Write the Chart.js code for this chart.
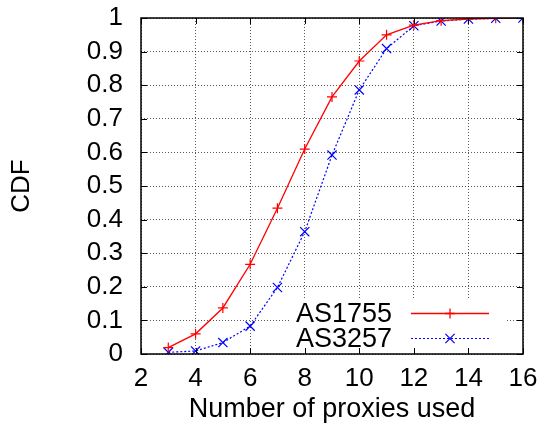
<!DOCTYPE html>
<html>
<head>
<meta charset="utf-8">
<script src="https://cdn.jsdelivr.net/npm/chart.js@4"></script>
<style>
html,body{margin:0;padding:0;background:#fff;}
canvas{display:block;}
</style>
</head>
<body>
<canvas id="c" width="545" height="426"></canvas>
<script>
const xValues = [3, 4, 5, 6, 7, 8, 9, 10, 11, 12, 13, 14, 15, 16];
const as1755 = [0.019, 0.060, 0.137, 0.267, 0.434, 0.610, 0.765, 0.872, 0.950, 0.979, 0.992, 0.997, 0.999, 1.000];
const as3257 = [0.005, 0.009, 0.034, 0.083, 0.198, 0.364, 0.592, 0.786, 0.909, 0.977, 0.991, 0.997, 0.999, 1.000];
const seriesLabels = ['AS1755', 'AS3257'];
const xTicks = [2, 4, 6, 8, 10, 12, 14, 16];
const yTicks = [0, 0.1, 0.2, 0.3, 0.4, 0.5, 0.6, 0.7, 0.8, 0.9, 1];

const FONT = '"Liberation Sans", Arial, Helvetica, sans-serif';

const toPts = (ys) => xValues.map((x, i) => ({x: x, y: ys[i]}));

const frameLegend = {
  id: 'frameLegend',
  beforeDatasetsDraw(chart) {
    const ctx = chart.ctx, a = chart.chartArea;
    ctx.save();
    ctx.fillStyle = '#fff';
    ctx.fillRect(290, 298, 507 - 290, a.bottom - 298);
    ctx.restore();
  },
  afterDatasetsDraw(chart) {
    const ctx = chart.ctx, a = chart.chartArea;
    const xs = chart.scales.x, ys = chart.scales.y;
    ctx.save();
    ctx.strokeStyle = '#000';
    ctx.lineWidth = 1;
    ctx.beginPath();
    xTicks.forEach(v => {
      const p = Math.round(xs.getPixelForValue(v)) + 0.5;
      ctx.moveTo(p, a.bottom); ctx.lineTo(p, a.bottom - 6);
      ctx.moveTo(p, a.top); ctx.lineTo(p, a.top + 6);
    });
    yTicks.forEach(v => {
      const p = Math.round(ys.getPixelForValue(v)) + 0.5;
      ctx.moveTo(a.left, p); ctx.lineTo(a.left + 6, p);
      ctx.moveTo(a.right, p); ctx.lineTo(a.right - 6, p);
    });
    ctx.stroke();
    ctx.lineWidth = 1.5;
    ctx.strokeRect(a.left, a.top, a.right - a.left, a.bottom - a.top);
    const rows = [313.5, 338.5];
    chart.data.datasets.forEach((ds, i) => {
      const y = rows[i];
      ctx.fillStyle = '#000';
      ctx.font = '27px ' + FONT;
      ctx.textAlign = 'right';
      ctx.textBaseline = 'middle';
      ctx.fillText(ds.label, 392, y + 1);
      ctx.strokeStyle = ds.borderColor;
      ctx.lineWidth = ds.borderWidth;
      ctx.setLineDash(ds.borderDash || []);
      ctx.beginPath();
      ctx.moveTo(411, y); ctx.lineTo(489, y);
      ctx.stroke();
      ctx.setLineDash([]);
      Chart.helpers.drawPoint(ctx, {
        pointStyle: ds.pointStyle, radius: ds.pointRadius, borderWidth: 1.2, rotation: 0
      }, 450, y);
    });
    ctx.restore();
  }
};

new Chart(document.getElementById('c'), {
  type: 'line',
  data: {
    datasets: [
      {
        label: seriesLabels[0],
        data: toPts(as1755),
        borderColor: '#ff0000',
        backgroundColor: '#ff0000',
        borderWidth: 1.3,
        pointStyle: 'cross',
        pointRadius: 5,
        pointBorderWidth: 1.2,
        tension: 0,
        fill: false
      },
      {
        label: seriesLabels[1],
        data: toPts(as3257),
        borderColor: '#0000ff',
        backgroundColor: '#0000ff',
        borderWidth: 1.2,
        borderDash: [2, 2],
        pointStyle: 'crossRot',
        pointRadius: 6.5,
        pointBorderWidth: 1.2,
        tension: 0,
        fill: false
      }
    ]
  },
  options: {
    responsive: false,
    animation: false,
    devicePixelRatio: 1,
    layout: {padding: {top: 18, right: 22, left: 0, bottom: 0}},
    plugins: {legend: {display: false}, tooltip: {enabled: false}},
    scales: {
      x: {
        type: 'linear',
        min: 2, max: 16,
        afterBuildTicks: (s) => { s.ticks = xTicks.map(v => ({value: v})); },
        afterFit: (s) => { s.height = 72; s.paddingLeft = 0; s.paddingRight = 0; },
        ticks: {color: '#000', font: {family: FONT, size: 26}, padding: 9, maxRotation: 0, autoSkip: false},
        grid: {color: 'rgba(0,0,0,0.65)', lineWidth: 1, drawTicks: false},
        border: {display: false, dash: [1, 2]},
        title: {display: true, text: 'Number of proxies used', color: '#000', font: {family: FONT, size: 27}, padding: 0}
      },
      y: {
        type: 'linear',
        min: 0, max: 1,
        afterBuildTicks: (s) => { s.ticks = yTicks.map(v => ({value: v})); },
        afterFit: (s) => { s.width = 141; s.paddingTop = 0; s.paddingBottom = 0; },
        ticks: {color: '#000', font: {family: FONT, size: 26, lineHeight: 1}, padding: 18, autoSkip: false,
          callback: (v) => String(Number(v.toFixed(1)))},
        grid: {color: 'rgba(0,0,0,0.65)', lineWidth: 1, drawTicks: false},
        border: {display: false, dash: [1, 2]},
        title: {display: true, text: 'CDF', color: '#000', font: {family: FONT, size: 26}, padding: {top: 6, bottom: 0}}
      }
    }
  },
  plugins: [frameLegend]
});
</script>
</body>
</html>
